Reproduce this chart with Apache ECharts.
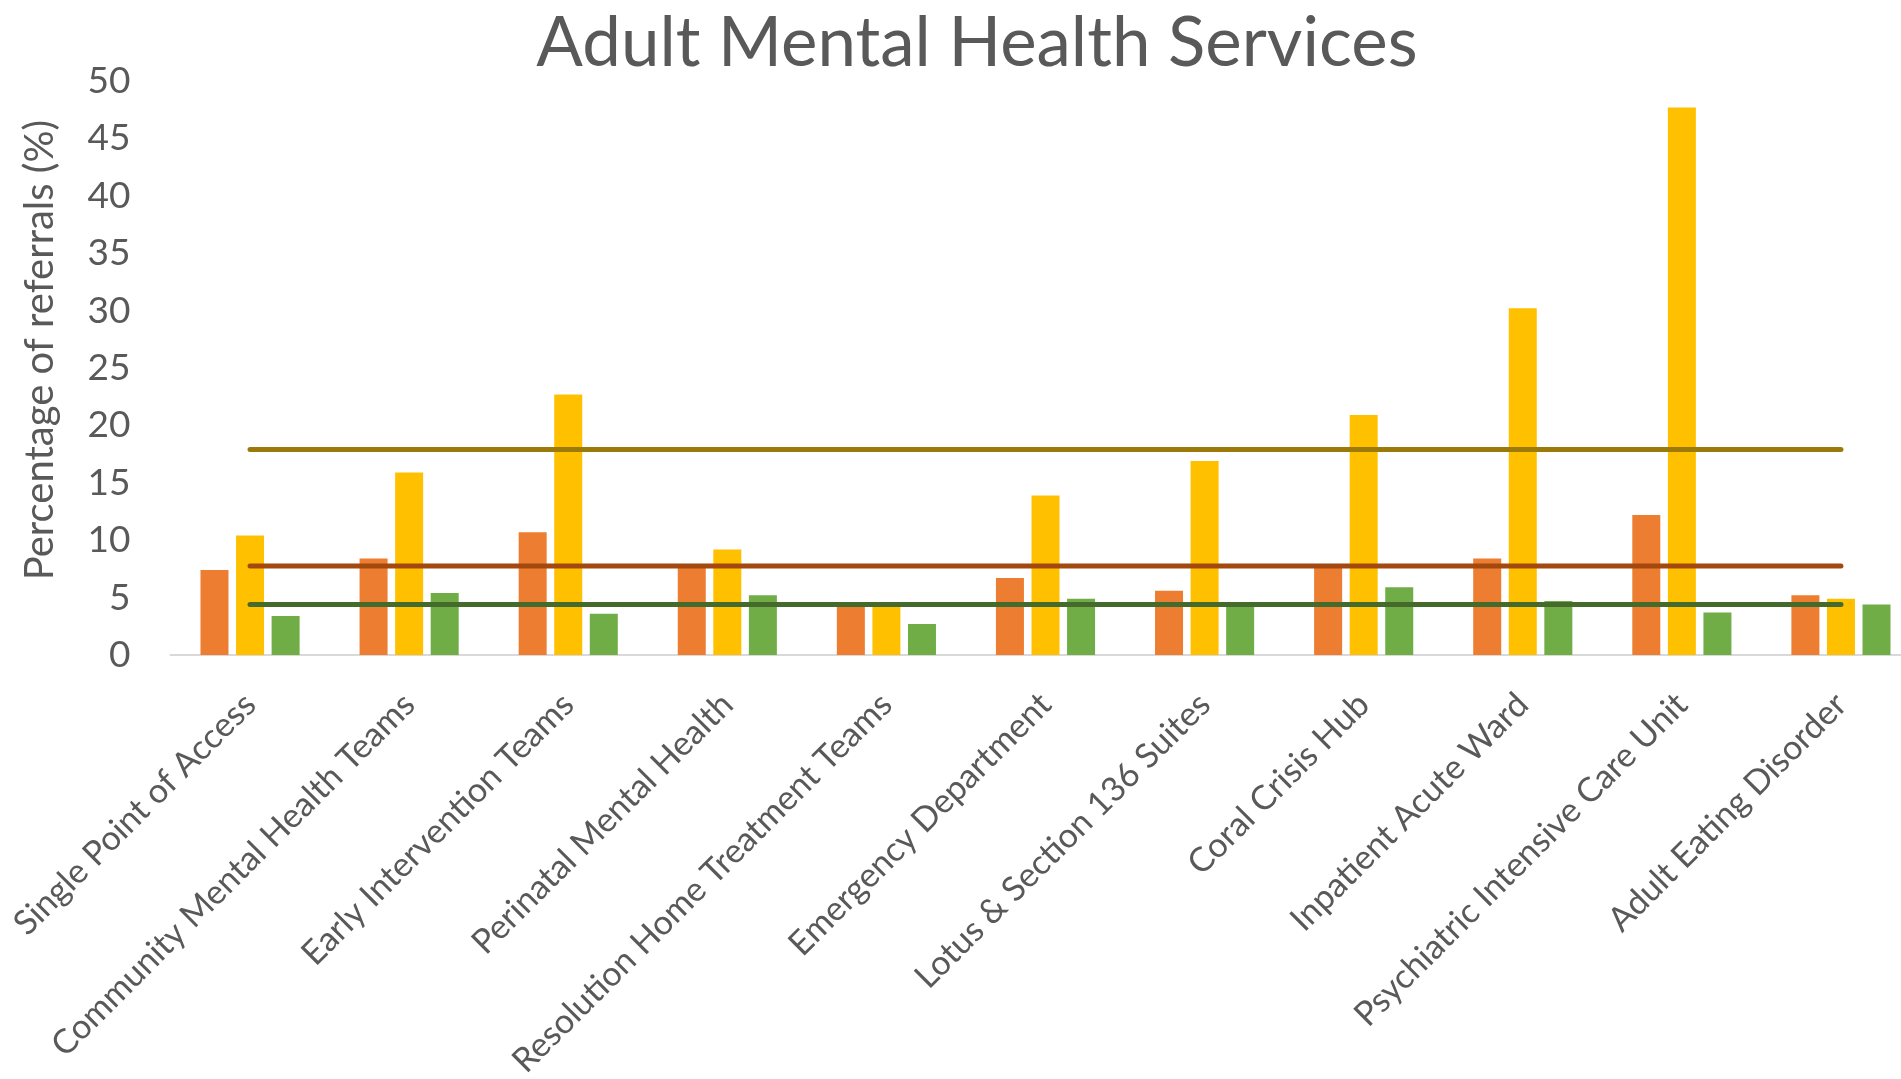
<!DOCTYPE html>
<html>
<head>
<meta charset="utf-8">
<title>Adult Mental Health Services</title>
<script src="https://cdn.jsdelivr.net/npm/echarts@6/dist/echarts.min.js"></script>
<style>
  html, body { margin: 0; padding: 0; background: #ffffff; }
  #chart { width: 1901px; height: 1079px; }
</style>
</head>
<body>
<div id="chart"></div>
<script>
// Services along the x axis
const categories = [
  'Single Point of Access',
  'Community Mental Health Teams',
  'Early Intervention Teams',
  'Perinatal Mental Health',
  'Resolution Home Treatment Teams',
  'Emergency Department',
  'Lotus & Section 136 Suites',
  'Coral Crisis Hub',
  'Inpatient Acute Ward',
  'Psychiatric Intensive Care Unit',
  'Adult Eating Disorder'
];

// Percentage of referrals per service, three groups
const orangeValues = [7.4, 8.4, 10.7, 7.9, 4.6, 6.7, 5.6, 7.9, 8.4, 12.2, 5.2];
const yellowValues = [10.4, 15.9, 22.7, 9.2, 4.4, 13.9, 16.9, 20.9, 30.2, 47.7, 4.9];
const greenValues  = [3.4, 5.4, 3.6, 5.2, 2.7, 4.9, 4.5, 5.9, 4.7, 3.7, 4.4];

// Overall levels drawn as horizontal lines across the services
const yellowLevel = 17.9;
const orangeLevel = 7.75;
const greenLevel  = 4.4;

// Y axis ticks
const yMin = 0;
const yMax = 50;
const yStep = 5;

const textColor = '#595959';
const fontFamily = 'Lato, "Open Sans", sans-serif';

function barSeries(name, values, color) {
  return {
    name: name,
    type: 'bar',
    data: values,
    barWidth: 28,
    barGap: '27%',
    itemStyle: { color: color },
    z: 2
  };
}

function levelSeries(name, level, color) {
  const first = categories[0];
  const last = categories[categories.length - 1];
  return {
    name: name,
    type: 'line',
    data: [[first, level], [last, level]],
    showSymbol: false,
    symbol: 'none',
    lineStyle: { color: color, width: 5, cap: 'round' },
    silent: true,
    z: 5
  };
}

const chart = echarts.init(document.getElementById('chart'), null, { renderer: 'canvas' });

chart.setOption({
  animation: false,
  backgroundColor: '#ffffff',
  title: {
    text: 'Adult Mental Health Services',
    left: 972,
    textAlign: 'center',
    top: 4,
    textStyle: {
      color: textColor,
      fontFamily: fontFamily,
      fontSize: 69,
      fontWeight: 'normal'
    }
  },
  grid: {
    left: 170.5,
    top: 81,
    width: 1750,
    height: 574,
    outerBoundsMode: 'none',
    containLabel: false
  },
  xAxis: {
    type: 'category',
    data: categories,
    axisLine: { show: true, lineStyle: { color: '#D9D9D9', width: 2 } },
    axisTick: { show: false },
    axisLabel: {
      interval: 0,
      rotate: 45,
      margin: 44,
      color: textColor,
      fontFamily: fontFamily,
      fontSize: 34
    }
  },
  yAxis: {
    type: 'value',
    min: yMin,
    max: yMax,
    interval: yStep,
    name: 'Percentage of referrals (%)',
    nameLocation: 'middle',
    nameRotate: 90,
    nameGap: 110,
    nameTextStyle: {
      color: textColor,
      fontFamily: fontFamily,
      fontSize: 40,
      padding: [0, 0, 0, 36]
    },
    axisLine: { show: false },
    axisTick: { show: false },
    splitLine: { show: false },
    axisLabel: {
      margin: 40,
      color: textColor,
      fontFamily: fontFamily,
      fontSize: 37
    }
  },
  series: [
    barSeries('Orange group', orangeValues, '#ED7D31'),
    barSeries('Yellow group', yellowValues, '#FFC000'),
    barSeries('Green group', greenValues, '#70AD47'),
    levelSeries('Yellow level', yellowLevel, '#9C7A0A'),
    levelSeries('Orange level', orangeLevel, '#A3490F'),
    levelSeries('Green level', greenLevel, '#446A2C')
  ]
});
</script>
</body>
</html>
